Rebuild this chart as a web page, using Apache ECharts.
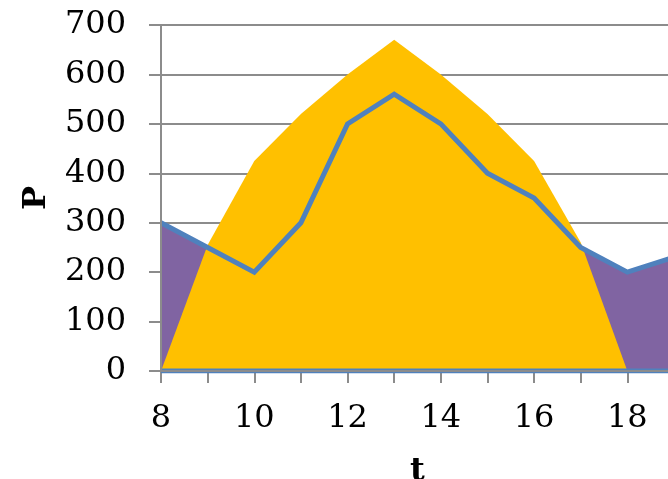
<!DOCTYPE html>
<html>
<head>
<meta charset="utf-8">
<script src="https://cdn.jsdelivr.net/npm/echarts@6/dist/echarts.min.js"></script>
<style>
  html, body { margin: 0; padding: 0; background: #ffffff; }
  #chart { width: 668px; height: 479px; }
</style>
</head>
<body>
<div id="chart"></div>
<script>
// Hours of the day (t)
const hours = [8, 9, 10, 11, 12, 13, 14, 15, 16, 17, 18, 19];
// Supply curve (yellow area), defined from 8 to 18
const supply = [0, 255, 425, 520, 600, 670, 600, 520, 425, 260, 0];
// Demand curve (blue line, purple area beneath)
const demand = [300, 250, 200, 300, 500, 560, 500, 400, 350, 250, 200, 230];
// Flat reference line along the time axis
const baseLevel = [0, 0, 0, 0, 0, 0, 0, 0, 0, 0, 0, 0];
// Axis tick labels
const xTickLabels = [8, 10, 12, 14, 16, 18];
const yTickLabels = [0, 100, 200, 300, 400, 500, 600, 700];

const pairs = (vals) => vals.map((v, i) => [hours[i], v]);

const FONT = 'DejaVu Serif';
const AXIS_GRAY = '#8c8c8c';
const xMin = hours[0], xMax = hours[hours.length - 1];
const yMin = yTickLabels[0], yMax = yTickLabels[yTickLabels.length - 1];

const chart = echarts.init(document.getElementById('chart'), null, { renderer: 'canvas' });

chart.setOption({
  animation: false,
  backgroundColor: '#ffffff',
  grid: {
    left: 161, top: 25, height: 346, width: 513,
    containLabel: false, outerBoundsMode: 'none'
  },
  xAxis: [
    {
      type: 'value', min: xMin, max: xMax, interval: 1,
      z: 0,
      name: 't', nameLocation: 'middle', nameGap: 85,
      nameTextStyle: { fontFamily: FONT, fontSize: 32, fontWeight: 'bold', color: '#000' },
      axisLine: { show: false },
      axisTick: { show: true, length: 12, lineStyle: { color: AXIS_GRAY, width: 2 } },
      axisLabel: {
        margin: 32, fontFamily: FONT, fontSize: 32, color: '#000',
        showMaxLabel: true, showMinLabel: true,
        formatter: (v) => (xTickLabels.includes(v) ? String(v) : '')
      },
      splitLine: { show: false }
    },
    {
      // axis line drawn above the filled areas
      type: 'value', min: xMin, max: xMax, position: 'bottom', z: 10,
      axisLine: { show: true, onZero: false, lineStyle: { color: AXIS_GRAY, width: 2 } },
      axisTick: { show: false }, axisLabel: { show: false }, splitLine: { show: false }
    }
  ],
  yAxis: [
    {
      type: 'value', min: yMin, max: yMax, interval: 100,
      z: 0,
      name: 'P', nameLocation: 'middle', nameGap: 108, nameRotate: 90,
      nameTextStyle: { fontFamily: FONT, fontSize: 32, fontWeight: 'bold', color: '#000' },
      axisLine: { show: false },
      axisTick: { show: true, length: 12, lineStyle: { color: AXIS_GRAY, width: 2 } },
      axisLabel: {
        margin: 35, fontFamily: FONT, fontSize: 32, color: '#000',
        padding: [8, 0, 0, 0],
        formatter: (v) => (yTickLabels.includes(v) ? String(v) : '')
      },
      splitLine: { show: true, lineStyle: { color: AXIS_GRAY, width: 2 } }
    },
    {
      type: 'value', min: yMin, max: yMax, position: 'left', z: 10,
      axisLine: { show: true, onZero: false, lineStyle: { color: AXIS_GRAY, width: 2 } },
      axisTick: { show: false }, axisLabel: { show: false }, splitLine: { show: false }
    }
  ],
  series: [
    {
      name: 'demand-area', type: 'line', data: pairs(demand),
      symbol: 'none', z: 2,
      lineStyle: { width: 0, opacity: 0 },
      areaStyle: { color: '#8064A2', opacity: 1 }
    },
    {
      name: 'supply', type: 'line', data: pairs(supply),
      symbol: 'none', z: 3,
      lineStyle: { width: 0, opacity: 0 },
      areaStyle: { color: '#FFC000', opacity: 1 }
    },
    {
      name: 'demand', type: 'line', data: pairs(demand),
      symbol: 'none', z: 4,
      lineStyle: { width: 5, color: '#4F81BD', join: 'miter' }
    },
    {
      name: 'base', type: 'line', data: pairs(baseLevel),
      symbol: 'none', z: 4,
      lineStyle: { width: 5, color: '#4F81BD' }
    }
  ]
});
</script>
</body>
</html>
